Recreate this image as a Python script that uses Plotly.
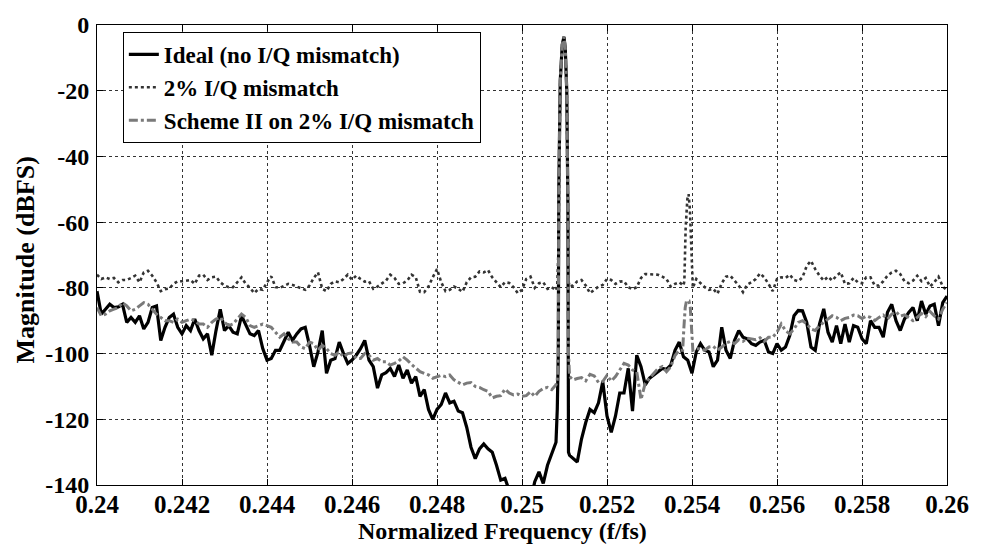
import numpy as np
import plotly.graph_objects as go

# ---------------- data ----------------
freq_start = 0.24
freq_step = 0.0001
n_bins = 201

ideal_db = [
    -81, -88, -86.5, -85, -86, -85.8, -85, -90.5, -89, -90.5,
    -88.5, -92.5, -90.5, -86, -85.5, -96, -92, -89, -88, -92,
    -94, -91.5, -93, -89.5, -93, -95.5, -94, -100.5, -93, -86.5,
    -93, -91.5, -93.5, -94, -88.5, -91.5, -94, -94.5, -93, -98.5,
    -102, -101.5, -99, -99, -96, -93.5, -96, -94, -92.5, -92,
    -97.5, -104, -99.5, -93, -106, -102, -101.5, -96.5, -100, -103,
    -102, -100.5, -98.5, -96, -102, -104, -110.5, -106.5, -105.8, -104.5,
    -107, -103.5, -107.5, -105, -109, -107, -113, -111, -117, -120,
    -117, -115.5, -112, -115, -114.5, -117.5, -118, -122.5, -128.5, -132,
    -129, -127.5, -129, -130, -134, -138.5, -138, -142, -146, -149,
    -147, -151, -145, -139, -136, -139.5, -134, -130.5, -127, None,
    None, None, -132, -133, -126, -121, -117, -118, -115, -108.5,
    -119, -124, -119, -112, -112, -104.5, -117.5, -100.5, -104, -109.5,
    -107.5, -106.5, -105.5, -104.5, -104.8, -103.5, -99, -96.5, -101, -102,
    -106, -99.5, -97, -99, -99.5, -104, -102, -92, -99, -101.5,
    -96, -93, -95, -95.5, -97, -97.5, -96.5, -96, -99.5, -100,
    -97, -99, -98, -94.5, -88.5, -86.9, -87, -90.5, -98, -99,
    -91, -86.4, -93.5, -96.5, -91.5, -97, -91, -96.5, -91.5, -92,
    -95.5, -97, -90, -92, -92, -95, -87.4, -85, -90, -93,
    -89.5, -87.5, -86, -90, -84, -88, -85.5, -85, -91.5, -84.5,
    -82.5,
]

mismatch_db = [
    -76, -77.3, -76.8, -77.3, -77, -78.3, -77.6, -77.6, -77, -76.3,
    -78.3, -75.3, -74.8, -76.3, -78.3, -81, -80.4, -80.2, -78.8, -78,
    -78, -77.8, -77.6, -78.8, -76.3, -76, -77.6, -76.8, -76.6, -78.3,
    -79.3, -79.8, -79.8, -78.3, -76.8, -78.8, -80, -81.6, -80.3, -80.6,
    -78.3, -76.5, -79.8, -80, -79.3, -78.8, -79.1, -79.6, -80.3, -80.6,
    -79.3, -77, -75.3, -80.3, -81, -78.8, -78, -78.3, -77.3, -76,
    -77.5, -76.3, -77.3, -78.1, -78, -80.3, -79.6, -78.6, -77.8, -76,
    -77, -78.8, -78.6, -77.8, -76, -76.8, -81.2, -81.3, -79.6, -76.8,
    -74.3, -78.3, -81, -80.6, -79.6, -80.3, -81.2, -78.3, -76.8, -76.6,
    -75, -75.3, -74.6, -76.8, -78.3, -79.8, -78.3, -78.5, -79.8, -81.6,
    -80.6, -77.3, -76.6, -80, -78.6, -78.3, -80.3, -79.8, -80.8, None,
    None, None, -79.3, -78, -77.6, -79.3, -81.6, -80.6, -79.6, -79.1,
    -77.3, -77.6, -78.8, -78.1, -78, -79.8, -80.4, -79.8, -77, -75.8,
    -75.8, -75.8, -76, -76.6, -77.3, -79.6, -78.8, -78.3, -79.3, None,
    None, -77.3, -78.6, -79.8, -80.6, -80.3, -81.8, -78.6, -76.6, -76.3,
    -77.8, -79.3, -81.3, -79, -78.3, -77.3, -75.6, -76.8, -78.8, -81,
    -77.3, -76.8, -77, -76, -77.6, -78, -76.8, -73.3, -71.8, -74.3,
    -76.3, -77.8, -76.6, -77.8, -76.3, -75.3, -78.8, -78.6, -77, -78.3,
    -78.6, -76.8, -76.8, -79.3, -79.3, -78, -76.3, -75.3, -74.8, -75.8,
    -78, -78.6, -77.8, -76.3, -78, -77, -79.6, -78.3, -76.6, -79.6,
    -80.8,
]

scheme2_db = [
    -86, -88.5, -88, -87, -86.5, -86, -84.5, -85.5, -87, -86.5,
    -85.5, -84.5, -85, -86.5, -88, -89, -90, -90, -90.5, -89.5,
    -90.5, -90, -89.5, -90, -91, -91, -92, -90.5, -89.5, -89,
    -90.5, -91.5, -91, -89.5, -88, -89, -91.5, -92, -91.5, -91,
    -91.5, -92, -93.5, -95, -94, -95.5, -96.5, -96.5, -98, -98.5,
    -96.5, -97, -99, -97.5, -98.5, -100, -100.5, -99.5, -101, -100,
    -99.8, -101.5, -101.5, -100, -100.5, -102, -101.5, -102.5, -102.5, -103.5,
    -103, -102.3, -101, -102, -103.3, -104.5, -105.5, -106, -106.5, -107.5,
    -107, -106.6, -107, -106.5, -108, -108.8, -109.5, -109, -108.8, -110,
    -110.3, -111, -111.5, -113.5, -113, -112.8, -110.8, -112, -112.6, -112.3,
    -113, -112.8, -111.6, -113, -111.5, -110.6, -110.3, -111, -109.5, None,
    None, None, -108, -107.6, -107.3, -108.3, -106.3, -106.8, -108.8, -108.5,
    -106.6, -108.4, -107, -105, -103, -103.5, -105, -105.5, -114, -109,
    -107.5, -106, -104.6, -104, -105.5, -104, -100.6, -99, None, None,
    None, -98.5, -98.5, -99, -98, -97.8, -99, -98, -96.8, -96.3,
    -97, -95.8, -96.3, -95.3, -95.5, -95.8, -95.2, -96.3, -95, -95,
    -93.5, -91, -93, -94, -92.5, -90.5, -90, -91, -92.5, -93,
    -91.5, -90.5, -89.5, -88.5, -89, -90, -89.3, -89, -88.3, -88.5,
    -89.3, -88.6, -89, -90, -89, -88.3, -89.5, -88, -87.3, -88.6,
    -88.2, -89, -90, -89, -87.8, -88.8, -87.2, -88.5, -89.5, -86.5,
    -84.5,
]

# carrier tone near f/fs = 0.251 (shared by all three curves)
tone_freq = [0.25083, 0.250854, 0.250866, 0.2509, 0.250947, 0.250987,
             0.251018, 0.251053, 0.25108, 0.251094, 0.25112]
ideal_tone_db = [-117, -100, -50, -17, -6, -3.6, -7, -20, -55, -130, -131]
mismatch_tone_db = [-79, -70, -50, -17, -6, -3.6, -7, -20, -55, -78, -79.5]
scheme2_tone_db = [-108, -100, -50, -17, -6, -3.6, -7, -20, -55, -100, -107]

# image spur near f/fs = 0.2539
mismatch_spur_freq = [0.25382, 0.25385, 0.25389, 0.25392, 0.25395, 0.25399, 0.25402]
mismatch_spur_db = [-78, -62, -53, -51.5, -56, -70, -80]
scheme2_spur_freq = [0.25378, 0.25381, 0.25384, 0.25387, 0.25393, 0.25396, 0.25399, 0.25402]
scheme2_spur_db = [-99, -92, -86, -84, -84, -86, -93, -99]

x_ticks = [0.24, 0.242, 0.244, 0.246, 0.248, 0.25, 0.252, 0.254, 0.256, 0.258, 0.26]
x_tick_text = ["0.24", "0.242", "0.244", "0.246", "0.248", "0.25",
               "0.252", "0.254", "0.256", "0.258", "0.26"]
y_ticks = [0, -20, -40, -60, -80, -100, -120, -140]
y_tick_text = ["0", "-20", "-40", "-60", "-80", "-100", "-120", "-140"]

names = ["Ideal (no I/Q mismatch)", "2% I/Q mismatch", "Scheme II on 2% I/Q mismatch"]

# ---------------- build series ----------------
grid = np.round(freq_start + freq_step * np.arange(n_bins), 6)


def merge(values, extra_f=(), extra_v=()):
    pts = [(f, v) for f, v in zip(grid, values) if v is not None]
    pts += list(zip(extra_f, extra_v))
    pts.sort(key=lambda p: p[0])
    return [p[0] for p in pts], [p[1] for p in pts]


ix, iy = merge(ideal_db, tone_freq, ideal_tone_db)
mx, my = merge(mismatch_db, list(tone_freq) + mismatch_spur_freq,
               mismatch_tone_db + mismatch_spur_db)
sx, sy = merge(scheme2_db, list(tone_freq) + scheme2_spur_freq,
               scheme2_tone_db + scheme2_spur_db)

FONT = "Liberation Serif"

fig = go.Figure()
fig.add_trace(go.Scatter(x=ix, y=iy, mode="lines", name=names[0],
                         line=dict(color="black", width=3.2)))
fig.add_trace(go.Scatter(x=mx, y=my, mode="lines", name=names[1],
                         line=dict(color="#333333", width=2.6, dash="dot")))
fig.add_trace(go.Scatter(x=sx, y=sy, mode="lines", name=names[2],
                         line=dict(color="#7a7a7a", width=3, dash="dashdot")))

axis_common = dict(
    showline=True, linecolor="black", linewidth=1, mirror="ticks",
    ticks="inside", ticklen=6, tickcolor="black",
    showgrid=True, gridcolor="#333333", gridwidth=1, griddash="3px,3px",
    zeroline=False,
)

fig.update_layout(
    width=981, height=544,
    margin=dict(l=97, r=29, t=23, b=59),
    paper_bgcolor="white", plot_bgcolor="white",
    showlegend=True,
    legend=dict(
        x=0.0304, y=0.985, xanchor="left", yanchor="top",
        bgcolor="white", bordercolor="black", borderwidth=1,
        font=dict(family=FONT, size=23, color="black", weight="bold"),
        tracegroupgap=0,
    ),
    xaxis=dict(range=[0.24, 0.26], tickvals=x_ticks, ticktext=x_tick_text,
               ticklabelstandoff=-3,
               tickfont=dict(family=FONT, size=25, color="black", weight="bold"),
               **axis_common),
    yaxis=dict(range=[-140, 0], tickvals=y_ticks, ticktext=y_tick_text,
               ticklabelstandoff=2,
               tickfont=dict(family=FONT, size=24, color="black", weight="bold"),
               **axis_common),
    annotations=[
        dict(text="Normalized Frequency (f/fs)", xref="paper", yref="paper",
             x=0.477, y=-0.0995, xanchor="center", yanchor="middle", showarrow=False,
             font=dict(family=FONT, size=24, color="black", weight="bold")),
        dict(text="Magnitude (dBFS)", xref="paper", yref="paper",
             x=-0.0842, y=0.489, xanchor="center", yanchor="middle", showarrow=False,
             textangle=-90,
             font=dict(family=FONT, size=26, color="black", weight="bold")),
    ],
)

fig.write_html("out.html")
